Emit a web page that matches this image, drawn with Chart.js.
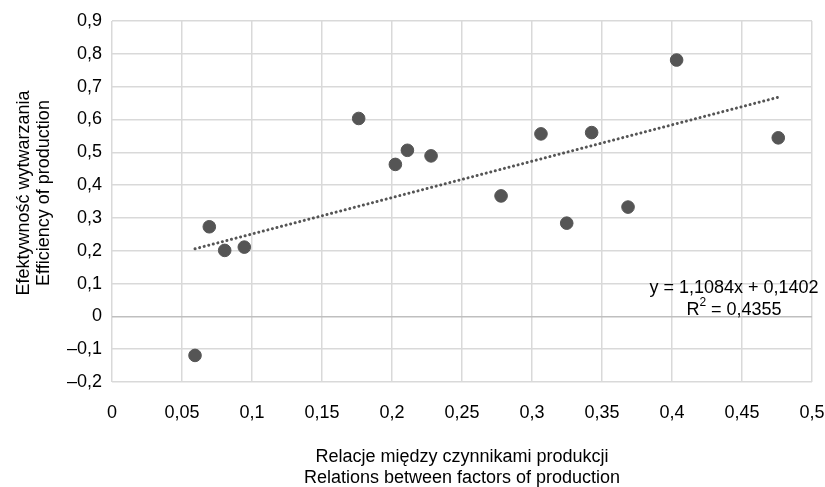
<!DOCTYPE html>
<html>
<head>
<meta charset="utf-8">
<script src="https://cdn.jsdelivr.net/npm/chart.js@4"></script>
<style>
  html, body { margin:0; padding:0; background:#fff; }
  #wrap { width:825px; height:487px; }
</style>
</head>
<body>
<div id="wrap"><canvas id="chart" width="825" height="487"></canvas></div>
<script>
// Dane
const relacje = [0.0593, 0.0695, 0.0805, 0.0945, 0.1762, 0.2024, 0.2110, 0.2279, 0.2779, 0.3064, 0.3248, 0.3426, 0.3686, 0.4033, 0.4759];
const efektywnosc = [-0.119, 0.273, 0.201, 0.211, 0.603, 0.463, 0.506, 0.489, 0.367, 0.556, 0.284, 0.560, 0.333, 0.781, 0.544];

// linia trendu (z równania na wykresie)
const SLOPE = 1.1084;
const INTERCEPT = 0.1402;
const equationLines = ['y = 1,1084x + 0,1402', 'R', '2', ' = 0,4355'];

const yTitle = ['Efektywność wytwarzania', 'Efficiency of production'];
const xTitle = ['Relacje między czynnikami produkcji', 'Relations between factors of production'];

const FONT = '"Liberation Sans", Arial, sans-serif';
const fmt = v => String(Math.round(v*100)/100).replace('.', ',').replace('-', '\u2013');

const points = relacje.map((x,i)=>({x, y: efektywnosc[i]}));
const xMin = Math.min(...relacje), xMax = Math.max(...relacje);
const trend = [xMin, xMax].map(x=>({x, y: SLOPE*x + INTERCEPT}));

// tytuły osi i równanie rysowane ręcznie
const textPlugin = {
  id: 'texts',
  afterDraw(chart){
    const ctx = chart.ctx;
    const area = chart.chartArea;
    ctx.save();
    ctx.fillStyle = '#000';
    ctx.font = '18px ' + FONT;
    ctx.textAlign = 'center';
    ctx.textBaseline = 'middle';
    // oś X
    const cx = (area.left + area.right)/2;
    ctx.fillText(xTitle[0], cx, 457);
    ctx.fillText(xTitle[1], cx, 478);
    // oś Y
    ctx.save();
    ctx.translate(24, 193);
    ctx.rotate(-Math.PI/2);
    ctx.fillText(yTitle[0], 0, 0);
    ctx.fillText(yTitle[1], 0, 20);
    ctx.restore();
    // równanie trendu
    ctx.fillText(equationLines[0], 734, 288);
    // R^2 z indeksem górnym
    ctx.textAlign = 'left';
    const wR = ctx.measureText(equationLines[1]).width;
    const wRest = ctx.measureText(equationLines[3]).width;
    ctx.font = '12px ' + FONT;
    const w2 = ctx.measureText(equationLines[2]).width;
    let x0 = 734 - (wR + w2 + wRest)/2;
    ctx.font = '18px ' + FONT;
    ctx.fillText(equationLines[1], x0, 310);
    ctx.font = '12px ' + FONT;
    ctx.fillText(equationLines[2], x0 + wR, 303);
    ctx.font = '18px ' + FONT;
    ctx.fillText(equationLines[3], x0 + wR + w2, 310);
    ctx.restore();
  }
};

new Chart(document.getElementById('chart'), {
  type: 'scatter',
  data: {
    datasets: [
      { data: points, backgroundColor:'#555555', borderColor:'#555555', pointRadius:6.3, pointHoverRadius:6.3 },
      { type:'line', data: trend, borderColor:'#555555', borderWidth:3, borderDash:[0.1,4.6], borderCapStyle:'round', pointRadius:0, fill:false }
    ]
  },
  options: {
    responsive:false, animation:false,
    layout:{ padding:{ top:21, right:13, left:0, bottom:0 } },
    plugins:{ legend:{ display:false }, tooltip:{ enabled:false } },
    scales:{
      x:{
        type:'linear', min:0, max:0.5,
        afterFit(s){ s.height = 105; s.paddingRight = 0; s.paddingLeft = 0; },
        grid:{ color:'#d9d9d9', lineWidth:1.5, drawTicks:false },
        border:{ display:false },
        ticks:{ stepSize:0.05, padding:20, color:'#000', font:{ family:FONT, size:18 }, callback:v=>fmt(v), maxRotation:0 }
      },
      y:{
        type:'linear', min:-0.2, max:0.9,
        afterFit(s){ s.width = 112; s.paddingTop = 0; s.paddingBottom = 0; },
        grid:{ color:c=> Math.abs(c.tick.value) < 1e-9 ? '#bfbfbf' : '#d9d9d9', lineWidth:1.5, drawTicks:false },
        border:{ display:false },
        ticks:{ stepSize:0.1, padding:10, color:'#000', font:{ family:FONT, size:18 }, callback:v=>fmt(v) }
      }
    }
  },
  plugins:[textPlugin]
});
</script>
</body>
</html>
